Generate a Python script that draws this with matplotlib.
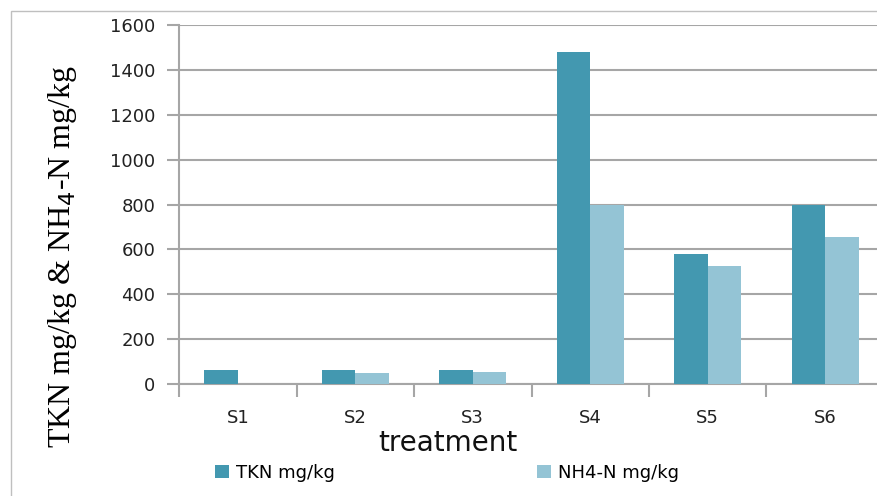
import numpy as np
import matplotlib.pyplot as plt
from matplotlib.patches import Rectangle

treatments = ['S1', 'S2', 'S3', 'S4', 'S5', 'S6']
tkn = [62, 62, 62, 1480, 580, 800]
nh4 = [0, 50, 55, 800, 525, 655]
yticks = [0, 200, 400, 600, 800, 1000, 1200, 1400, 1600]

c_tkn = '#4398B0'
c_nh4 = '#94C4D5'
grid_c = '#A6A6A6'

W, H = 877, 496
fig = plt.figure(figsize=(W/100, H/100), dpi=100)

# outer chart frame (cut off at right/bottom like the screenshot)
fig.patches.append(Rectangle((11/W, -0.1), 1.2, 1 - 11/H + 0.1, transform=fig.transFigure,
                             fill=False, edgecolor='#BFBFBF', lw=1))

x0, x1 = 179, 884
ytop, ybot = 25, 384
ax = fig.add_axes([x0/W, 1 - ybot/H, (x1 - x0)/W, (ybot - ytop)/H])

x = np.arange(len(treatments))
bw = 0.285
ax.bar(x - bw/2, tkn, bw, color=c_tkn, label='TKN mg/kg', zorder=3)
ax.bar(x + bw/2, nh4, bw, color=c_nh4, label='NH4-N mg/kg', zorder=3)

ax.set_xlim(-0.5, len(treatments) - 0.5)
ax.set_ylim(0, 1600)
ax.set_yticks(yticks)
ax.set_yticklabels([str(v) for v in yticks], fontsize=13, color='#222222')
ax.yaxis.grid(True, color=grid_c, lw=1.5, zorder=0)
ax.set_axisbelow(True)

ax.set_xticks(x)
ax.set_xticklabels(treatments, fontsize=13, color='#222222')
ax.tick_params(axis='x', length=0, pad=18)
ax.set_xticks(np.arange(-0.5, len(treatments), 1), minor=True)
ax.tick_params(axis='x', which='minor', length=9, color=grid_c, width=1.5)
ax.tick_params(axis='y', length=9, color=grid_c, width=1.5, pad=8)

for s in ['top', 'right']:
    ax.spines[s].set_visible(False)
for s in ['left', 'bottom']:
    ax.spines[s].set_color(grid_c)
    ax.spines[s].set_linewidth(1.5)

ax.set_xlabel('treatment', fontsize=20, color='#111111', va='center')
ax.xaxis.set_label_coords((448 - x0)/(x1 - x0), -(443 - ybot)/(ybot - ytop))
ax.set_ylabel('TKN mg/kg & NH$_4$-N mg/kg', fontsize=23, family='Liberation Serif',
              va='center')
ax.yaxis.set_label_coords((62 - x0)/(x1 - x0), (ybot - 256)/(ybot - ytop))

fig.legend(loc='center left', bbox_to_anchor=(199/W, 1 - 473/H), ncol=2, frameon=False,
           fontsize=13, handlelength=0.75, handleheight=0.75, columnspacing=11.2,
           handletextpad=0.4)

fig.savefig('out.png', dpi=100)
